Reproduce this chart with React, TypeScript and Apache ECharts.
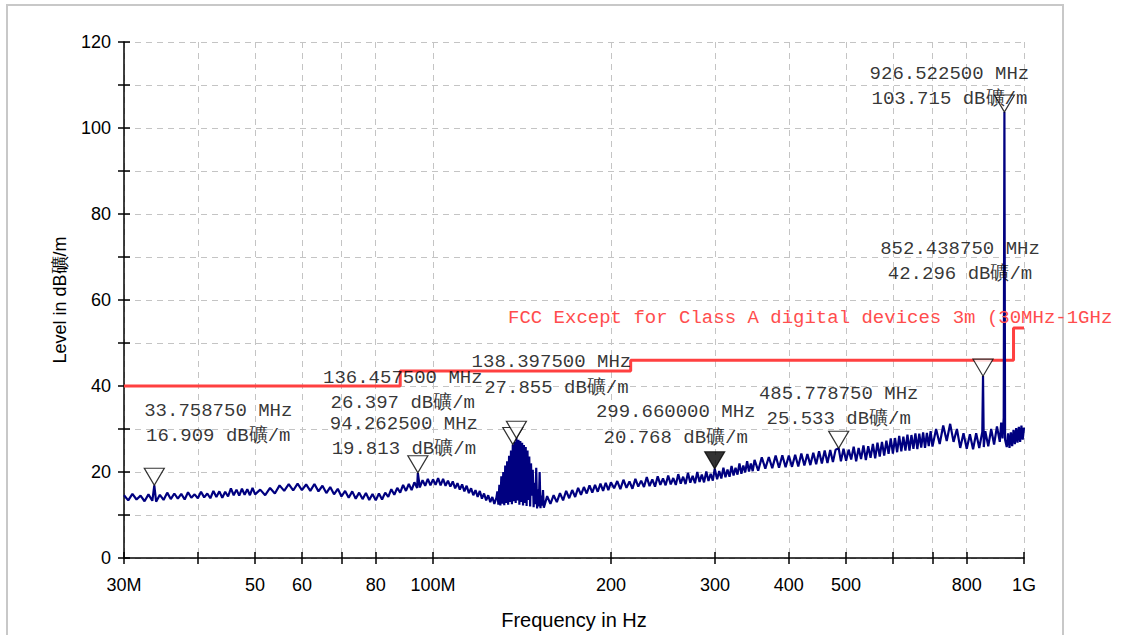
import React, { useEffect, useRef } from 'react';
import * as echarts from 'echarts';

// ---------- data ----------
const xTickValues = [30, 40, 50, 60, 70, 80, 100, 200, 300, 400, 500, 600, 700, 800, 1000];
const xLabelValues = [30, 50, 60, 80, 100, 200, 300, 400, 500, 800, 1000];

const limitLine: [number, number][] = [
  [30, 40], [88, 40], [88, 43.5], [216, 43.5], [216, 46], [960, 46], [960, 53.5], [1000, 53.5],
];
const limitLabel = 'FCC Except for Class A digital devices 3m (30MHz-1GHz';

const markerFreqs = [33.75875, 94.2625, 136.4575, 138.3975, 299.66, 485.77875, 852.43875, 926.5225];
const markerLevels = [16.909, 19.813, 26.397, 27.855, 20.768, 25.533, 42.296, 103.715];
const filledMarker = 4;

const unitText = 'dB礦/m';

// measured spectrum (MHz, dBµV/m)
const trace: [number, number][] = [
  [30, 14.6], [30.5, 13.4], [31, 14.9], [31.5, 13.6], [32, 14.5], [32.5, 13.2], [33, 14.8], [33.5, 13.3],
  [33.76, 16.9], [34, 13.1], [34.5, 14.7], [35, 13.5], [35.5, 15.2], [36, 13.7], [36.5, 15.0], [37, 13.8],
  [37.5, 14.9], [38, 13.6], [38.5, 15.3], [39, 14.0], [39.5, 14.8], [40, 13.9], [40.5, 15.4], [41, 14.1],
  [41.5, 15.0], [42, 13.9], [42.5, 15.6], [43, 14.2], [43.5, 15.5], [44, 14.0], [44.5, 15.4], [45, 14.3],
  [45.5, 16.2], [46, 14.6], [46.5, 15.9], [47, 14.5], [47.5, 16.1], [48, 14.7], [48.5, 16.0], [49, 14.6],
  [49.5, 16.3], [50, 14.8],
  [51, 15.9], [52, 14.6], [53, 16.3], [54, 15.0], [55, 16.9], [56, 15.6], [57, 17.2], [58, 15.7],
  [59, 17.3], [60, 15.8], [61, 17.1], [62, 15.6], [63, 17.2], [64, 15.5], [65, 16.8], [66, 15.1],
  [67, 16.5], [68, 14.8], [69, 16.1], [70, 14.3], [71, 15.6], [72, 14.0], [73, 15.5], [74, 13.8],
  [75, 15.2], [76, 13.7], [77, 15.1], [78, 13.5], [79, 14.9], [80, 13.4], [81, 15.0], [82, 13.6],
  [83, 15.2], [84, 14.2], [85, 16.0], [86, 14.7], [87, 16.3], [88, 15.2], [89, 17.0], [90, 15.6],
  [91, 17.2], [92, 15.8], [93, 17.6], [94, 16.3], [94.26, 19.8], [95, 16.4], [96, 18.1], [97, 16.8],
  [98, 18.4], [99, 16.9], [100, 18.3],
  [101, 17.0], [102, 18.6], [103, 16.9], [104, 18.4], [105, 16.8], [106, 18.0], [107, 16.6], [108, 17.8],
  [109, 16.2], [110, 17.4], [111, 15.9], [112, 17.1], [113, 15.5], [114, 16.8], [115, 15.1], [116, 16.2],
  [117, 14.6], [118, 15.8], [119, 14.2], [120, 15.6], [121, 13.8], [122, 15.0], [123, 13.4], [124, 14.6],
  [125, 13.0], [126, 14.2], [127, 12.6], [128, 14.0],
  [128.5, 15.5], [129, 12.4], [129.5, 17.0], [130, 12.2], [130.5, 19.0], [131, 12.6], [131.5, 20.0], [132, 12.3],
  [132.5, 21.5], [133, 12.8], [133.5, 22.5], [134, 12.4], [134.5, 23.8], [135, 13.0], [135.5, 25.0], [136, 12.5],
  [136.46, 26.4], [137, 13.2], [137.5, 27.0], [138, 12.8], [138.4, 27.9], [139, 13.4], [139.5, 27.5], [140, 12.4],
  [140.5, 27.2], [141, 13.0], [141.5, 26.8], [142, 12.2], [142.5, 26.3], [143, 12.8], [143.5, 25.8], [144, 12.1],
  [144.5, 25.0], [145, 13.5], [145.5, 23.6], [146, 12.0], [146.5, 22.0], [147, 14.5], [147.5, 20.5], [148, 11.8],
  [148.5, 17.5], [149, 12.5], [149.5, 21.0], [150, 11.5], [150.5, 16.0], [151, 12.0], [151.5, 20.0], [152, 11.6],
  [152.5, 14.5], [153, 12.2], [153.5, 15.8], [154, 11.7],
  [156, 14.4], [158, 12.6], [160, 14.6], [162, 13.0], [164, 15.1], [166, 13.4], [168, 15.6], [170, 13.9],
  [172, 15.8], [174, 14.2], [176, 16.3], [178, 14.7], [180, 16.5], [182, 15.0], [184, 16.9], [186, 15.2],
  [188, 17.0], [190, 15.4], [192, 17.3], [194, 15.6], [196, 17.5], [198, 15.8], [200, 17.6],
  [202.5, 16.2], [205, 17.9], [207.5, 16.0], [210, 18.2], [212.5, 16.3], [215, 17.8], [217.5, 16.1], [220, 18.4],
  [222.5, 16.6], [225, 18.0], [227.5, 16.5], [230, 18.8], [232.5, 16.7], [235, 18.3], [237.5, 16.6], [240, 19.0],
  [242.5, 17.0], [245, 18.5], [247.5, 16.9], [250, 19.2], [252.5, 17.1], [255, 18.6], [257.5, 17.0], [260, 19.5],
  [262.5, 17.3], [265, 18.9], [267.5, 17.2], [270, 19.8], [272.5, 17.5], [275, 19.1], [277.5, 17.4], [280, 20.0],
  [282.5, 17.7], [285, 19.4], [287.5, 17.6], [290, 20.1], [292.5, 17.9], [295, 19.6], [297.5, 18.0], [299.66, 20.8],
  [302.5, 18.3], [305, 20.2], [307.5, 18.5], [310, 21.0], [312.5, 18.8], [315, 20.6], [317.5, 18.9], [320, 21.4],
  [322.5, 19.2], [325, 21.0], [327.5, 19.4], [330, 22.0], [332.5, 19.6], [335, 21.5], [337.5, 19.9], [340, 22.5],
  [342.5, 20.1], [345, 22.0], [347.5, 20.2], [350, 22.8],
  [355, 20.3], [360, 23.4], [365, 20.8], [370, 23.5], [375, 20.9], [380, 23.8], [385, 21.0], [390, 23.9],
  [395, 21.1], [400, 23.8], [405, 21.2], [410, 24.0], [415, 21.3], [420, 24.3], [425, 21.5], [430, 24.2],
  [435, 21.6], [440, 24.5], [445, 21.8], [450, 24.8], [455, 22.0], [460, 25.0], [465, 22.1], [470, 25.1],
  [475, 22.3], [480, 25.2], [485.78, 25.5], [490, 22.5], [495, 25.4], [500, 22.6],
  [505, 25.2], [510, 22.9], [515, 25.9], [520, 22.5], [525, 25.6], [530, 23.0], [535, 26.2], [540, 22.8],
  [545, 26.0], [550, 23.3], [555, 26.5], [560, 23.2], [565, 26.8], [570, 23.6], [575, 27.0], [580, 23.8],
  [585, 27.3], [590, 24.2], [595, 27.8], [600, 24.3], [605, 27.9], [610, 24.6], [615, 28.4], [620, 24.8],
  [625, 28.2], [630, 25.0], [635, 28.7], [640, 25.0], [645, 28.6], [650, 25.4], [655, 29.0], [660, 25.3],
  [665, 28.9], [670, 25.7], [675, 29.2], [680, 25.6], [685, 29.1], [690, 26.0], [695, 29.5], [700, 25.9],
  [710, 30.0], [720, 26.5], [730, 30.8], [740, 27.2], [750, 31.2], [760, 27.0], [770, 30.0], [780, 25.6],
  [790, 29.0], [800, 25.4], [810, 28.8], [820, 25.3], [830, 29.0], [840, 25.6], [850, 29.3], [852.44, 42.3],
  [855, 25.8], [860, 29.5], [870, 26.0], [880, 30.0], [890, 26.4], [900, 30.6], [910, 27.0], [915, 31.5],
  [920, 27.8], [924, 32.6], [926.52, 103.7], [929, 27.5], [935, 25.8], [940, 29.0], [945, 25.6], [950, 29.2],
  [955, 26.0], [960, 29.8], [965, 26.5], [970, 30.2], [975, 26.8], [980, 30.5], [985, 27.0], [990, 30.8],
  [995, 27.5], [1000, 30.3],
];

// ---------- layout: label line centres relative to each marker tip (px) ----------
const freqLineOffsets: [number, number][] = [
  [64, -74], [-14, -49], [-110, -66.5], [35, -76.5], [-39, -56.35], [0, -53.8], [-23, -127.4], [-55, -38.3],
];
const levelLineOffsets: [number, number][] = [
  [64, -49], [-14, -24], [-110, -41.5], [40, -49.75], [-39, -30.35], [0, -28.8], [-23, -102.4], [-55, -13.3],
];

const fmtX = (v: number) => {
  if (v === 30) return '30M';
  if (v === 100) return '100M';
  if (v === 1000) return '1G';
  return String(v);
};

const axisFont = { fontFamily: 'Liberation Sans, Arial, sans-serif', color: '#000' };
const monoFont = 'Liberation Mono, DejaVu Sans Mono, monospace';

const labelSeries = (name: string, offsets: [number, number][], fmt: (f: number, v: number) => string) => ({
  type: 'scatter', name,
  data: markerFreqs.map((f, i) => ({ value: [f, markerLevels[i]], label: { offset: offsets[i] } })),
  symbolSize: 1, itemStyle: { color: 'transparent' }, z: 6, silent: true,
  label: {
    show: true, position: 'inside', align: 'center', verticalAlign: 'middle',
    fontFamily: monoFont, fontSize: 19, lineHeight: 16, color: '#000',
    formatter: (p: any) => fmt(p.value[0], p.value[1]),
  },
});

export default function App() {
  const ref = useRef<HTMLDivElement>(null);
  useEffect(() => {
    document.body.style.margin = '0';
    const chart = echarts.init(ref.current!, undefined, { renderer: 'svg' });
    const gridLine = { show: true, lineStyle: { color: '#c4c4c4', type: [6, 5] as any, width: 1 } };
    const option: any = {
      animation: false,
      backgroundColor: '#ffffff',
      grid: { left: 124, right: 97, top: 42, bottom: 75, containLabel: false },
      xAxis: [
        {
          type: 'log', logBase: 10, min: 30, max: 1000,
          name: 'Frequency in Hz', nameLocation: 'middle', nameGap: 52,
          nameTextStyle: { ...axisFont, fontSize: 20 },
          axisLine: { show: true, onZero: false, lineStyle: { color: '#000', width: 1.5 } },
          axisTick: { show: true, inside: false, length: 6, customValues: xTickValues, lineStyle: { color: '#000', width: 1.5 } },
          axisLabel: { show: true, customValues: xLabelValues, formatter: fmtX, margin: 18, fontSize: 18, ...axisFont },
          splitLine: gridLine,
          minorTick: { show: false }, minorSplitLine: { show: false },
        },
        {
          type: 'log', logBase: 10, min: 30, max: 1000, position: 'bottom',
          axisLine: { show: false },
          axisTick: { show: true, inside: true, length: 6, customValues: xTickValues, lineStyle: { color: '#000', width: 1.5 } },
          axisLabel: { show: false },
          splitLine: { show: false },
        },
      ],
      yAxis: [
        {
          type: 'value', min: 0, max: 120, interval: 10,
          name: 'Level in ' + unitText, nameLocation: 'middle', nameGap: 55,
          nameTextStyle: { ...axisFont, fontSize: 18 },
          axisLine: { show: true, onZero: false, lineStyle: { color: '#000', width: 1.5 } },
          axisTick: { show: true, inside: false, length: 6, lineStyle: { color: '#000', width: 1.5 } },
          axisLabel: { margin: 13, fontSize: 18, ...axisFont, formatter: (v: number) => (v % 20 === 0 ? String(v) : '') },
          splitLine: gridLine,
        },
        {
          type: 'value', min: 0, max: 120, interval: 10, position: 'left',
          axisLine: { show: false },
          axisTick: { show: true, inside: true, length: 6, lineStyle: { color: '#000', width: 1.5 } },
          axisLabel: { show: false },
          splitLine: { show: false },
        },
      ],
      series: [
        {
          type: 'line', name: 'limit', data: limitLine, symbol: 'none', showSymbol: false,
          lineStyle: { color: '#ff4040', width: 3 }, z: 2, silent: true,
        },
        {
          type: 'line', name: 'trace', data: trace, symbol: 'none', showSymbol: false,
          lineStyle: { color: '#000080', width: 2.2, join: 'bevel' }, z: 3, silent: true, clip: true,
        },
        {
          type: 'scatter', name: 'markers',
          data: markerFreqs.map((f, i) => ({
            value: [f, markerLevels[i]],
            itemStyle: { color: i === filledMarker ? '#000' : '#fff' },
          })),
          symbol: 'path://M0 0L20 0L10 17Z', symbolSize: [20, 17], symbolOffset: [0, -8.5],
          itemStyle: { borderColor: '#000', borderWidth: 1.2 }, z: 5, silent: true,
        },
        labelSeries('marker frequency', freqLineOffsets, (f) => `${f.toFixed(6)} MHz`),
        labelSeries('marker level', levelLineOffsets, (_f, v) => `${v.toFixed(3)} ${unitText}`),
      ],
      graphic: [
        {
          type: 'rect', silent: true, z: -10,
          shape: { x: 7, y: 5, width: 1056, height: 650 },
          style: { fill: 'none', stroke: '#c8c8c8', lineWidth: 2 },
        },
        {
          type: 'text', silent: true, z: 10, x: 508, y: 318,
          style: { text: limitLabel, fill: '#ff4d4d', fontFamily: monoFont, fontSize: 19, verticalAlign: 'middle' },
        },
      ],
    };
    chart.setOption(option);
    return () => chart.dispose();
  }, []);
  return <div ref={ref} style={{ width: 1121, height: 635 }} />;
}
